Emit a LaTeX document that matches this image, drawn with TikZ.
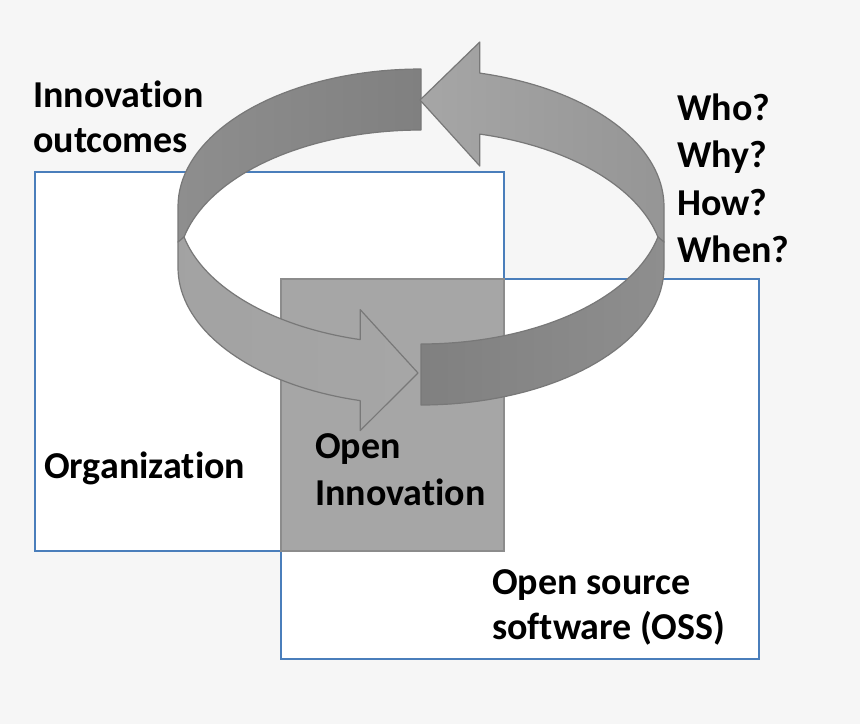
\documentclass[tikz,border=0pt]{standalone}
\usepackage{fontspec}
\setmainfont{Carlito}[Ligatures=NoCommon]
\definecolor{pagegray}{HTML}{F6F6F6}
\definecolor{frameblue}{HTML}{4A7EBB}
\definecolor{ringdark}{HTML}{808080}
\definecolor{ringmid}{HTML}{8E8E8E}
\definecolor{ringlight}{HTML}{A6A6A6}
\definecolor{ringedge}{HTML}{787878}
\definecolor{overlapedge}{HTML}{8C8C8C}
\begin{document}
\begin{tikzpicture}[x=1pt,y=-1pt,
  lbl/.style={anchor=base west,inner sep=0pt,font=\bfseries\fontsize{38}{46}\selectfont},
  frame/.style={draw=frameblue,line width=2pt,fill=white},
  overlapbox/.style={draw=overlapedge,line width=2pt,fill=ringlight},
  ribbon/.style={draw=ringedge,line width=1.2pt,line join=round}]
  \fill[pagegray] (0,0) rectangle (860,724);
  \useasboundingbox (0,0) rectangle (860,724);
  \draw[frame] (34.6,171.7) rectangle (503.6,550.8);
  \draw[frame] (281.4,278.9) rectangle (758.6,658.8);
  \draw[overlapbox] (281.4,278.9) rectangle (503.6,550.8);
  \draw[ribbon,left color=ringmid,right color=ringdark] (421,69)
    -- plot[domain=90:180,samples=40] ({421+243*cos(\x)},{206.5-137.5*sin(\x)})
    -- (178,242) -- (184.1,237)
    -- plot[domain=167.2:90,samples=40] ({421+243*cos(\x)},{267.5-137.5*sin(\x)})
    -- cycle;
  \draw[ribbon,left color=ringlight,right color=ringmid!70!ringlight] (479.8,73.1)
    -- plot[domain=76:0,samples=40] ({421+243*cos(\x)},{206.5-137.5*sin(\x)})
    -- (664,242) -- (657.9,237)
    -- plot[domain=12.8:76,samples=40] ({421+243*cos(\x)},{267.5-137.5*sin(\x)})
    -- (479.8,166) -- (420,100) -- (479.8,42) -- cycle;
  \draw[ribbon,left color=ringlight!85!ringmid,right color=ringlight] (184.1,237)
    -- plot[domain=192.8:255.5,samples=40] ({421+243*cos(\x)},{206.5-137.5*sin(\x)})
    -- (360.2,309.6) -- (418,373) -- (360.2,430.6)
    -- plot[domain=255.5:180,samples=40] ({421+243*cos(\x)},{267.5-137.5*sin(\x)})
    -- (178,242) -- cycle;
  \draw[ribbon,left color=ringdark,right color=ringmid] (421,344)
    -- plot[domain=270:347.2,samples=40] ({421+243*cos(\x)},{206.5-137.5*sin(\x)})
    -- (664,242)
    -- plot[domain=360:270,samples=40] ({421+243*cos(\x)},{267.5-137.5*sin(\x)})
    -- cycle;
  \node[lbl] (outcomes1) at (33,107) {Innovation};
  \node[lbl] (outcomes2) at (33,152) {outcomes};
  \node[lbl] (who) at (677,120) {Who?};
  \node[lbl] (why) at (677,167) {Why?};
  \node[lbl] (how) at (677,215) {How?};
  \node[lbl] (when) at (677,262) {When?};
  \node[lbl] (org) at (44,478) {Organization};
  \node[lbl] (open1) at (315,458) {Open};
  \node[lbl] (open2) at (315,505) {Innovation};
  \node[lbl] (oss1) at (492,594) {Open source};
  \node[lbl] (oss2) at (492,639) {software (OSS)};
\end{tikzpicture}
\end{document}
